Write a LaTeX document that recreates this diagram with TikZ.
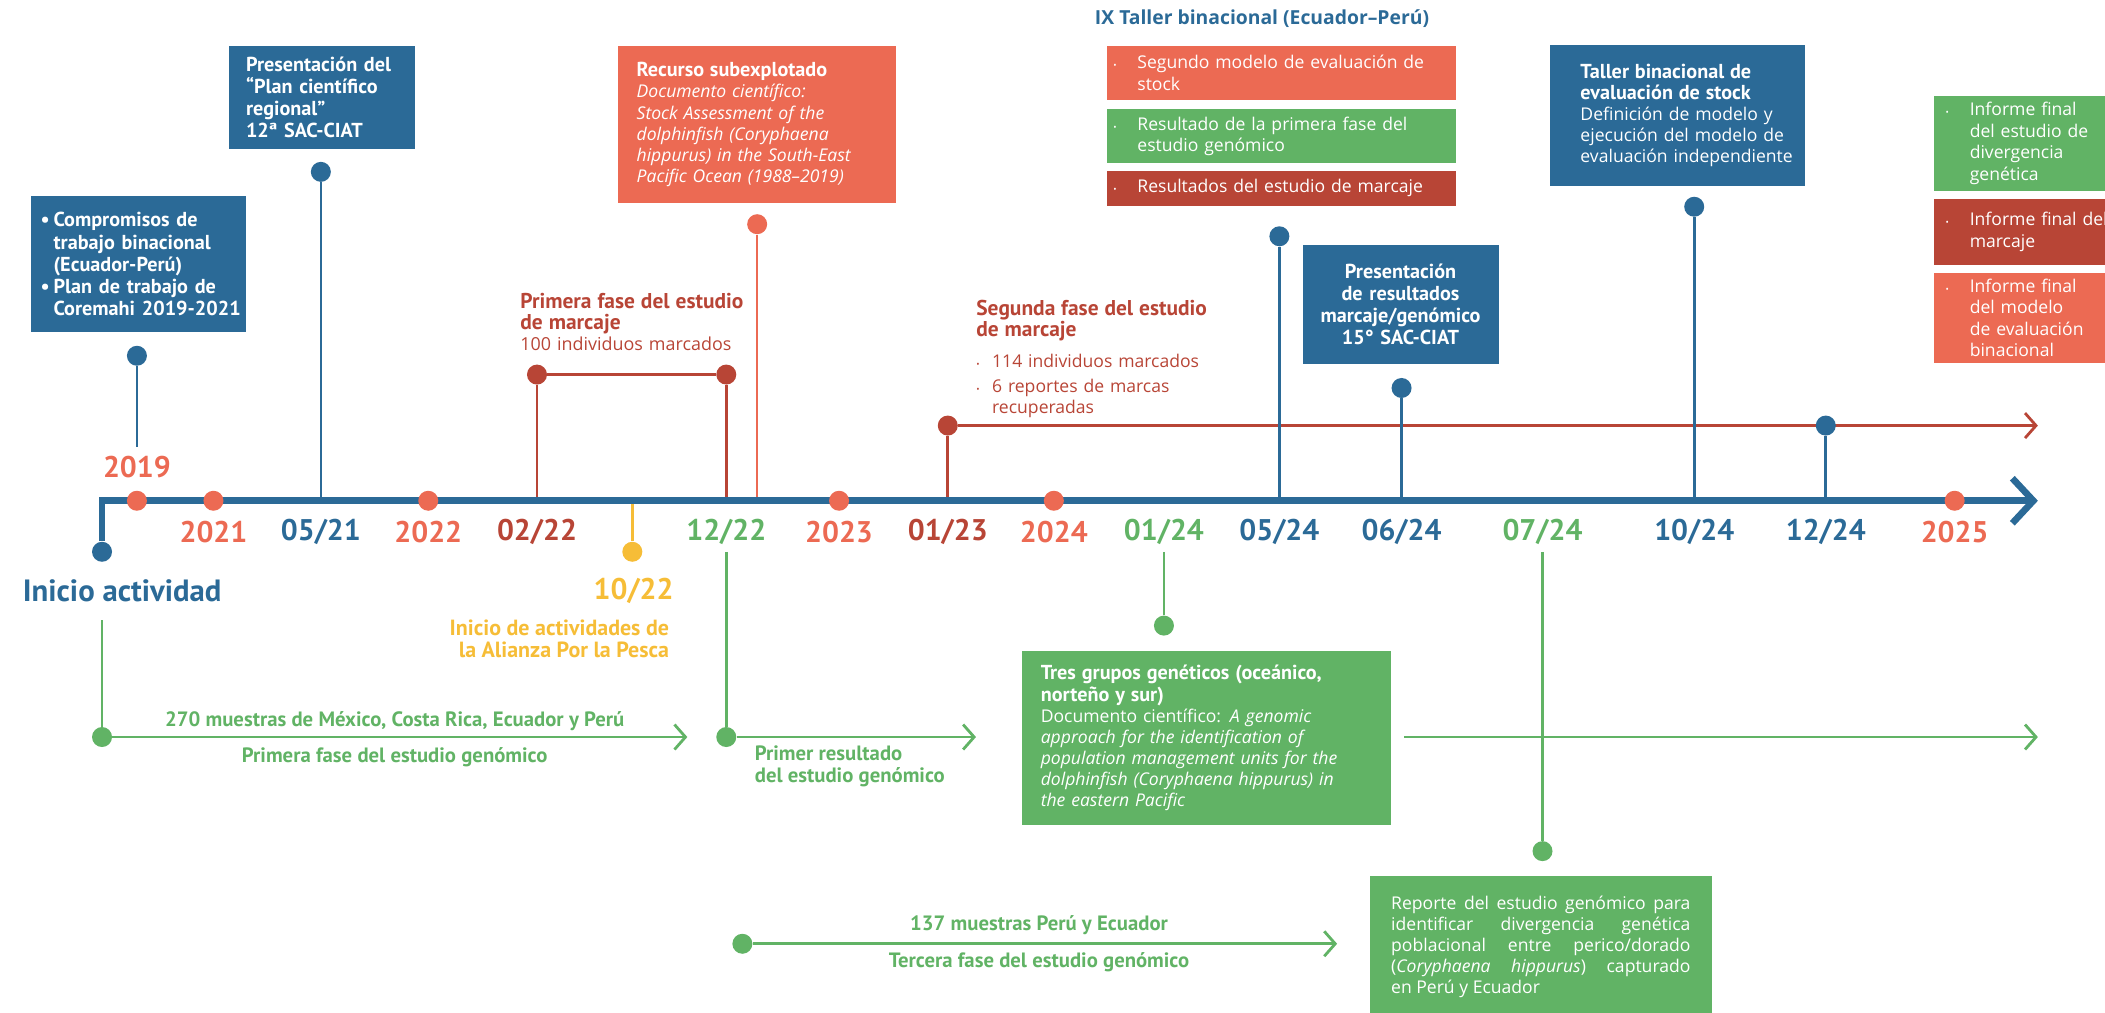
\documentclass[tikz,border=0pt]{standalone}
\usepackage{fontspec}
\setmainfont{Open Sans}
\newfontfamily\lab{PT Sans}
\usetikzlibrary{arrows.meta,positioning}
\definecolor{azul}{HTML}{2B6A97}
\definecolor{coral}{HTML}{EC6A53}
\definecolor{rojo}{HTML}{B84536}
\definecolor{verde}{HTML}{61B365}
\definecolor{amarillo}{HTML}{F6BD37}
\newcommand{\bl}[1]{\makebox[#1][l]{\textbullet}}
\newcommand{\ib}{\makebox[0.483cm][l]{\tiny\textbullet}}
\tikzstyle{punto}=[circle,inner sep=0pt,minimum size=0.4cm]
\tikzstyle{fecha}=[font=\lab\bfseries\fontsize{17}{17}\selectfont]
\tikzstyle{rot}=[font=\lab\bfseries\fontsize{11.8}{12.5}\selectfont,text=verde]
\tikzstyle{caja}=[anchor=north west,text=white,align=left,inner ysep=0pt,font=\fontsize{10}{12}\selectfont]
\tikzstyle{tallo}=[line width=1.5pt]
\tikzstyle{flecha}=[line width=1.6pt,->]
\tikzstyle{eje}=[line width=3.8pt,-{Straight Barb[length=0.42cm,width=0.9cm]},color=azul]

\begin{document}
\begin{tikzpicture}[
      x=0.02685cm,y=-0.02685cm,
      >={Straight Barb[length=0.22cm,width=0.5cm]}
    ]
      \clip (0,0) rectangle (1568,754);
      \useasboundingbox (0,0) rectangle (1568,754);

      \coordinate (e0) at (76,373);
      \coordinate (e1) at (1518,373);
      \coordinate (t19) at (102,333);
      \coordinate (t0521) at (239,373);
      \coordinate (t0222) at (400,373);
      \coordinate (t1022) at (471,373);
      \coordinate (t1222) at (541,373);
      \coordinate (tsub) at (564,373);
      \coordinate (t0123) at (706,373);
      \coordinate (t0524) at (953,373);
      \coordinate (t0624) at (1044,373);
      \coordinate (t1024) at (1262,373);
      \coordinate (t1224) at (1360,373);

      \node [punto,fill=rojo] (d0123) at (706,317) {};
      \coordinate (fr) at (1518,317);
      \draw [flecha,rojo] (d0123) -- (fr);

      \node [punto,fill=azul] (d19) at (102,265) {};
      \node [punto,fill=azul] (d0521) at (239,128) {};
      \node [punto,fill=rojo] (d0222) at (400,279) {};
      \node [punto,fill=rojo] (d1222) at (541,279) {};
      \node [punto,fill=coral] (dsub) at (564,167) {};
      \node [punto,fill=azul] (d0524) at (953,176) {};
      \node [punto,fill=azul] (d0624) at (1044,289) {};
      \node [punto,fill=azul] (d1024) at (1262,154) {};
      \node [punto,fill=azul] (d1224) at (1360,317) {};
      \node [punto,fill=azul] (dini) at (76,411) {};
      \node [punto,fill=amarillo] (d1022) at (471,411) {};

      \draw [tallo,azul] (d19) -- (t19);
      \draw [tallo,azul] (d0521) -- (t0521);
      \draw [tallo,rojo] (d0222) -- (t0222);
      \draw [tallo,rojo] (d0222) -- (d1222);
      \draw [tallo,rojo] (d1222) -- (t1222);
      \draw [tallo,coral] (dsub) -- (tsub);
      \draw [tallo,rojo] (d0123) -- (t0123);
      \draw [tallo,azul] (d0524) -- (t0524);
      \draw [tallo,azul] (d0624) -- (t0624);
      \draw [tallo,azul] (d1024) -- (t1024);
      \draw [tallo,azul] (d1224) -- (t1224);
      \draw [tallo,amarillo] (t1022) -- (d1022);

      \draw [eje] (dini) -- (e0) -- (e1);

      \node [punto,fill=coral] (a19) at (102,373) {};
      \node [punto,fill=coral] (a21) at (159,373) {};
      \node [punto,fill=coral] (a22) at (319,373) {};
      \node [punto,fill=coral] (a23) at (625,373) {};
      \node [punto,fill=coral] (a24) at (785,373) {};
      \node [punto,fill=coral] (a25) at (1456,373) {};

      \node [fecha,text=coral] (l19) at (102,348) {2019};
      \node [fecha,text=coral] (l21) at (159,396) {2021};
      \node [fecha,text=azul] (l0521) at (239,396) {05/21};
      \node [fecha,text=coral] (l22) at (319,396) {2022};
      \node [fecha,text=rojo] (l0222) at (400,396) {02/22};
      \node [fecha,text=verde] (l1222) at (541,396) {12/22};
      \node [fecha,text=coral] (l23) at (625,396) {2023};
      \node [fecha,text=rojo] (l0123) at (706,396) {01/23};
      \node [fecha,text=coral] (l24) at (785,396) {2024};
      \node [fecha,text=verde] (l0124) at (867,396) {01/24};
      \node [fecha,text=azul] (l0524) at (953,396) {05/24};
      \node [fecha,text=azul] (l0624) at (1044,396) {06/24};
      \node [fecha,text=verde] (l0724) at (1149,396) {07/24};
      \node [fecha,text=azul] (l1024) at (1262,396) {10/24};
      \node [fecha,text=azul] (l1224) at (1360,396) {12/24};
      \node [fecha,text=coral] (l25) at (1456,396) {2025};
      \node [fecha,text=amarillo] (l1022) at (472,440) {10/22};
      \node [text=azul,font=\lab\bfseries\fontsize{17.5}{17.5}\selectfont] (ini) at (91,440) {Inicio actividad};
      \node [anchor=east,align=right,text=amarillo,font=\lab\bfseries\fontsize{12.5}{12.5}\selectfont] (ali) at (503,476) {Inicio de actividades de\\la Alianza Por la Pesca};

      \node [caja,fill=azul,minimum width=4.296cm,minimum height=2.712cm,text width=3.92cm,inner xsep=0.188cm,font=\lab\bfseries\fontsize{11.5}{12.6}\selectfont] (kb1) at (23,146) {\bl{0.26cm}Compromisos de\\\hspace*{0.26cm}trabajo binacional\\\hspace*{0.26cm}(Ecuador-Perú)\\\bl{0.26cm}Plan de trabajo de\\\hspace*{0.26cm}\mbox{Coremahi 2019-2021}};
      \node [caja,fill=azul,minimum width=3.732cm,minimum height=2.067cm,text width=3.034cm,inner xsep=0.349cm,font=\lab\bfseries\fontsize{11.5}{12.5}\selectfont] (kb2) at (170,34) {Presentación del\\“Plan científico\\regional”\\12ª SAC-CIAT};
      \node [caja,fill=coral,minimum width=5.558cm,minimum height=3.141cm,text width=4.806cm,inner xsep=0.376cm] (kb3) at (460,34) {{\lab\bfseries\fontsize{11.5}{12}\selectfont Recurso subexplotado}\\\textit{Documento científico:}\\\textit{Stock Assessment of the}\\\textit{dolphinfish (Coryphaena}\\\textit{\mbox{hippurus) in the South-East}}\\\textit{Pacific Ocean (1988–2019)}};

      \node [anchor=west,text=azul,font=\bfseries\fontsize{11}{12}\selectfont] (ix) at (811,14) {IX Taller binacional (Ecuador–Perú)};
      \node [caja,fill=coral,minimum width=6.981cm,minimum height=1.074cm,text width=6.713cm,inner xsep=0.134cm] (ix1) at (824,34) {\ib Segundo modelo de evaluación de\\\hspace*{0.483cm}stock};
      \node [caja,fill=verde,minimum width=6.981cm,minimum height=1.074cm,text width=6.713cm,inner xsep=0.134cm] (ix2) at (824,81) {\ib Resultado de la primera fase del\\\hspace*{0.483cm}estudio genómico};
      \node [caja,fill=rojo,minimum width=6.981cm,minimum height=0.698cm,text width=6.713cm,inner xsep=0.134cm] (ix3) at (824,127) {\ib Resultados del estudio de marcaje};

      \node [caja,fill=azul,align=center,minimum width=3.92cm,minimum height=2.39cm,text width=3.6cm,inner xsep=0.16cm,font=\lab\bfseries\fontsize{11.5}{12.6}\selectfont] (kb5) at (970,182) {Presentación\\de resultados\\marcaje/genómico\\15° SAC-CIAT};
      \node [caja,fill=azul,minimum width=5.102cm,minimum height=2.819cm,text width=3.866cm,inner xsep=0.618cm] (kb6) at (1154,33) {{\lab\bfseries\fontsize{11.5}{12}\selectfont Taller binacional de\\evaluación de stock}\\\mbox{Definición de modelo y}\\\mbox{ejecución del modelo de}\\\mbox{evaluación independiente}};

      \node [caja,fill=verde,minimum width=3.759cm,minimum height=1.906cm,text width=3.275cm,inner xsep=0.242cm,font=\fontsize{10}{12.2}\selectfont] (kf1) at (1440,71) {\ib Informe final\\\hspace*{0.483cm}del estudio de\\\hspace*{0.483cm}divergencia\\\hspace*{0.483cm}genética};
      \node [caja,fill=rojo,minimum width=3.759cm,minimum height=1.316cm,text width=3.275cm,inner xsep=0.242cm,font=\fontsize{10}{12.2}\selectfont] (kf2) at (1440,148) {\ib Informe final del\\\hspace*{0.483cm}marcaje};
      \node [caja,fill=coral,minimum width=3.759cm,minimum height=1.799cm,text width=3.275cm,inner xsep=0.242cm,font=\fontsize{10}{12.2}\selectfont] (kf3) at (1440,203) {\ib Informe final\\\hspace*{0.483cm}del modelo\\\hspace*{0.483cm}de evaluación\\\hspace*{0.483cm}binacional};

      \node [anchor=west,align=left,text=rojo,text width=5cm,font=\fontsize{10.2}{12}\selectfont] (m1) at (383,240) {{\lab\bfseries\fontsize{12.2}{12.2}\selectfont Primera fase del estudio\\de marcaje}\\100 individuos marcados};
      \node [anchor=north west,align=left,text=rojo,text width=5cm,inner sep=0pt,font=\fontsize{10}{12}\selectfont] (m2) at (727,223) {{\lab\bfseries\fontsize{12.2}{12.2}\selectfont Segunda fase del estudio\\de marcaje}\\[6pt]\makebox[9pt][l]{\tiny\textbullet}114 individuos marcados\\[2pt]\makebox[9pt][l]{\tiny\textbullet}6 reportes de marcas\\\hspace*{9pt}recuperadas};

      \coordinate (g0) at (76,462);
      \node [punto,fill=verde] (dg1) at (76,549) {};
      \coordinate (g1) at (512,549);
      \coordinate (g2) at (541,411);
      \node [punto,fill=verde] (dg2) at (541,549) {};
      \coordinate (g3) at (727,549);
      \coordinate (g4) at (867,411);
      \node [punto,fill=verde] (dg4) at (867,466) {};
      \coordinate (g5) at (1046,549);
      \coordinate (g6) at (1518,549);
      \coordinate (g7) at (1149,411);
      \node [punto,fill=verde] (dg7) at (1149,634) {};
      \node [punto,fill=verde] (dg8) at (553,703) {};
      \coordinate (g8) at (996,703);

      \draw [tallo,verde] (g0) -- (dg1);
      \draw [flecha,verde] (dg1) -- (g1);
      \draw [tallo,verde] (g2) -- (dg2);
      \draw [flecha,verde] (dg2) -- (g3);
      \draw [tallo,verde] (g4) -- (dg4);
      \draw [flecha,verde] (g5) -- (g6);
      \draw [tallo,verde] (g7) -- (dg7);
      \draw [flecha,verde] (dg8) -- (g8);

      \node [rot] (r1) at (294,537) {270 muestras de México, Costa Rica, Ecuador y Perú};
      \node [rot] (r2) at (294,564) {Primera fase del estudio genómico};
      \node [rot,anchor=north west,align=left,inner sep=0pt] (r3) at (562,555) {Primer resultado\\del estudio genómico};
      \node [rot] (r4) at (774,689) {137 muestras Perú y Ecuador};
      \node [rot] (r5) at (774,717) {Tercera fase del estudio genómico};

      \node [caja,fill=verde,minimum width=7.384cm,minimum height=3.464cm,text width=6.632cm,inner xsep=0.376cm] (kb8) at (761,485) {{\lab\bfseries\fontsize{11.5}{12}\selectfont Tres grupos genéticos (oceánico,\\norteño y sur)}\\Documento científico: \textit{A genomic}\\\textit{approach for the identification of}\\\textit{population management units for the}\\\textit{dolphinfish (Coryphaena hippurus) in}\\\textit{the eastern Pacific}};
      \node [caja,fill=verde,align=justify,minimum width=6.847cm,minimum height=2.846cm,text width=5.987cm,inner xsep=0.43cm] (kb9) at (1020,652) {Reporte del estudio genómico para\linebreak identificar divergencia genética\linebreak poblacional entre perico/dorado\linebreak (\textit{Coryphaena hippurus}) capturado\linebreak en Perú y Ecuador};
    \end{tikzpicture}
\end{document}
